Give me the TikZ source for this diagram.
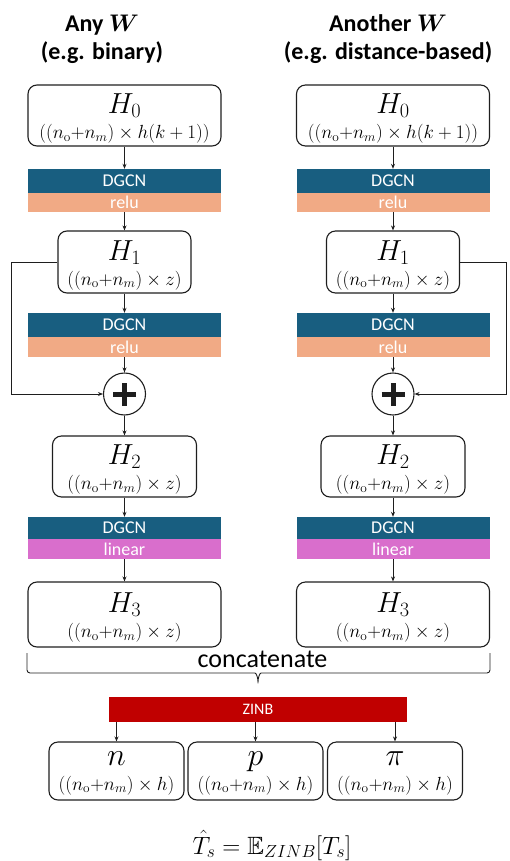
\RequirePackage{fix-cm}
\documentclass[tikz,border=0pt]{standalone}
\usepackage{amsmath,amssymb,bm}
\usepackage[no-math]{fontspec}
\setmainfont{Carlito}
\usetikzlibrary{arrows.meta, positioning}
\definecolor{dgcnblue}{RGB}{24,94,128}
\definecolor{relusalmon}{RGB}{241,170,133}
\definecolor{linearpink}{RGB}{217,110,204}
\definecolor{zinbred}{RGB}{192,0,0}
\definecolor{inkblack}{RGB}{30,30,30}

\newcommand{\nsum}{(n_{\mathrm{o}}{+}n_m)}
\newcommand{\hstate}[3][29]{{\fontsize{#1}{#1}\selectfont$#2$}\\{$#3$}}

\tikzset{
  statebox/.style={draw=inkblack, line width=1.1pt, rounded corners=9pt, inner sep=0pt},
  statetext/.style={align=center, inner sep=0pt, font=\fontsize{19}{25}\selectfont},
  band/.style={minimum width=193pt, minimum height=#1, inner sep=0pt, text=white,
    font=\fontsize{18}{20}\selectfont},
  flow/.style={-{Stealth[length=5pt,width=4pt]}, inkblack, line width=0.8pt},
}

\begin{document}
\begin{tikzpicture}[x=1pt, y=-1pt]
    \useasboundingbox (0,0) rectangle (509,861);

    % Column titles
    \node[align=center, font=\bfseries\fontsize{24}{28}\selectfont] (titlel) at (102,39) {Any $\bm{W}$\\(e.g. binary)};
    \node[align=center, font=\bfseries\fontsize{24}{28}\selectfont] (titler) at (388,39) {Another $\bm{W}$\\(e.g. distance-based)};

    % Two DGCN branches
    \foreach \c/\xc/\anc/\dx in {l/124.5/west/-46, r/393/east/46} {
        \node[statebox, minimum width=193pt, minimum height=61pt] (h0\c) at (\xc,115.5) {};
        \node[statetext] (h0t\c) at ([yshift=-3pt]h0\c.center) {\hstate{H_0}{(\nsum\times h(k+1))}};

        \node[band=24pt, fill=dgcnblue] (dgcna\c) at (\xc,181) {DGCN};
        \node[band=19pt, fill=relusalmon] (relua\c) at (\xc,202.5) {relu};

        \node[statebox, minimum width=133pt, minimum height=62pt] (h1\c) at (\xc,262) {};
        \node[statetext] (h1t\c) at ([yshift=-3pt]h1\c.center) {\hstate{H_1}{(\nsum\times z)}};

        \node[band=24pt, fill=dgcnblue] (dgcnb\c) at (\xc,325) {DGCN};
        \node[band=20pt, fill=relusalmon] (relub\c) at (\xc,347) {relu};

        \node[draw=inkblack, circle, line width=1.1pt, minimum size=42pt, inner sep=0pt,
          path picture={
            \draw[line width=5pt] ([xshift=-11.5pt]path picture bounding box.center) -- ([xshift=11.5pt]path picture bounding box.center);
            \draw[line width=5pt] ([yshift=-11.5pt]path picture bounding box.center) -- ([yshift=11.5pt]path picture bounding box.center);
          }] (plus\c) at (\xc,394) {};

        \node[statebox, minimum width=144pt, minimum height=61pt] (h2\c) at (\xc,466.5) {};
        \node[statetext] (h2t\c) at ([yshift=-3pt]h2\c.center) {\hstate{H_2}{(\nsum\times z)}};

        \node[band=22pt, fill=dgcnblue] (dgcnc\c) at (\xc,528) {DGCN};
        \node[band=20pt, fill=linearpink] (linear\c) at (\xc,549) {linear};

        \node[statebox, minimum width=193pt, minimum height=65pt] (h3\c) at (\xc,614.5) {};
        \node[statetext] (h3t\c) at ([yshift=-3pt]h3\c.center) {\hstate{H_3}{(\nsum\times z)}};

        % flow
        \draw[flow] (h0\c) -- (dgcna\c);
        \draw[flow] (relua\c) -- (h1\c);
        \draw[flow] (h1\c) -- (dgcnb\c);
        \draw[flow] (relub\c) -- (plus\c);
        \draw[flow] (plus\c) -- (h2\c);
        \draw[flow] (h2\c) -- (dgcnc\c);
        \draw[flow] (linear\c) -- (h3\c);
        % skip connection
        \draw[flow] (h1\c.\anc) -- ++(\dx,0) |- (plus\c.\anc);
    }

    % Concatenate brace
    \draw[inkblack, line width=0.9pt, rounded corners=3pt] (27,653) -- (27,673) -- (252,673)
        .. controls (256,673) and (258,677) .. (258,685)
        .. controls (258,677) and (260,673) .. (264,673) -- (490,673) -- (490,653);
    \node[anchor=base, font=\fontsize{26}{28}\selectfont] (concat) at (262.5,667) {concatenate};

    % ZINB head
    \node[fill=zinbred, minimum width=298pt, minimum height=25pt, inner sep=0pt, text=white,
      font=\fontsize{16}{18}\selectfont] (zinb) at (258,709.5) {ZINB};

    \foreach \v/\nm/\xb in {n/nbox/116.5, p/pbox/255.5, \pi/pibox/395} {
        \node[statebox, minimum width=135pt, minimum height=58pt] (\nm) at (\xb,771) {};
        \node[statetext] (\nm t) at ([yshift=-2pt]\nm.center) {\hstate[32]{\v}{(\nsum\times h)}};
        \draw[flow] (zinb.south -| \nm.north) -- (\nm.north);
    }

    % Expectation
    \node[anchor=base, font=\fontsize{25}{27}\selectfont] (tshat) at (272,854) {$\hat{T}_s=\mathbb{E}_{ZINB}[T_s]$};
\end{tikzpicture}
\end{document}
